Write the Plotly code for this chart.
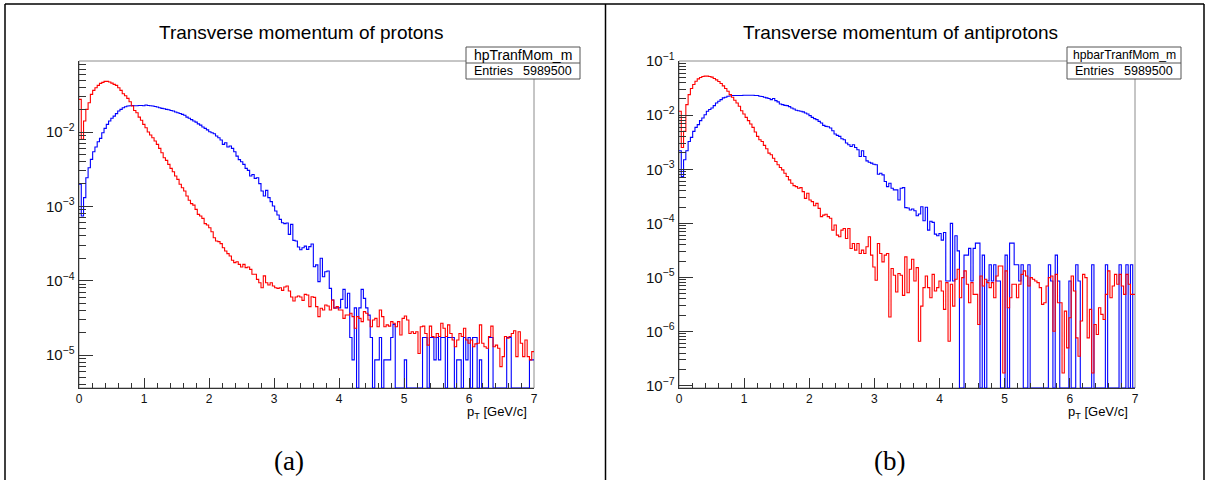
import numpy as np
import plotly.graph_objects as go

### ----- data (200 bins, 0 < pT < 7 GeV/c) ----- ###

pt_min = 0.0
pt_max = 7.0
n_bins = 200

# protons, red histogram
p_red = [
    2.75e-2, 8.0e-3, 1.41e-2, 2.02e-2, 2.48e-2, 3.21e-2, 3.64e-2, 3.95e-2, 4.24e-2, 4.52e-2,
    4.66e-2, 4.81e-2, 4.81e-2, 4.71e-2, 4.56e-2, 4.38e-2, 4.24e-2, 3.95e-2, 3.64e-2, 3.28e-2,
    3.08e-2, 2.84e-2, 2.56e-2, 2.24e-2, 1.95e-2, 1.82e-2, 1.59e-2, 1.44e-2, 1.27e-2, 1.14e-2,
    1.00e-2, 9.12e-3, 8.39e-3, 7.57e-3, 6.83e-3, 6.03e-3, 5.27e-3, 4.52e-3, 4.16e-3, 3.67e-3,
    3.24e-3, 2.92e-3, 2.56e-3, 2.31e-3, 1.98e-3, 1.78e-3, 1.61e-3, 1.38e-3, 1.21e-3, 1.09e-3,
    1.04e-3, 9.12e-4, 7.80e-4, 7.41e-4, 6.90e-4, 5.85e-4, 5.61e-4, 5.16e-4, 4.56e-4, 3.79e-4,
    3.42e-4, 3.35e-4, 3.15e-4, 2.78e-4, 2.51e-4, 2.31e-4, 2.15e-4, 1.88e-4, 1.75e-4, 1.80e-4,
    1.66e-4, 1.53e-4, 1.66e-4, 1.50e-4, 1.53e-4, 1.42e-4, 1.22e-4, 1.22e-4, 1.04e-4, 9.40e-5,
    8.05e-5, 1.16e-4, 9.40e-5, 8.75e-5, 9.40e-5, 8.48e-5, 8.05e-5, 7.88e-5, 8.05e-5, 7.41e-5,
    8.22e-5, 8.48e-5, 7.26e-5, 6.03e-5, 5.32e-5, 6.03e-5, 6.22e-5, 6.03e-5, 5.43e-5, 6.55e-5,
    6.41e-5, 4.47e-5, 6.09e-5, 5.97e-5, 4.47e-5, 3.28e-5, 4.25e-5, 4.03e-5, 4.71e-5, 4.56e-5,
    4.03e-5, 5.50e-5, 4.25e-5, 4.47e-5, 4.03e-5, 4.03e-5, 3.11e-5, 3.45e-5, 3.45e-5, 3.64e-5,
    3.28e-5, 2.29e-5, 3.28e-5, 3.11e-5, 2.81e-5, 3.83e-5, 3.64e-5, 2.96e-5, 2.40e-5, 2.96e-5,
    3.11e-5, 2.40e-5, 4.03e-5, 3.28e-5, 2.40e-5, 2.54e-5, 2.45e-5, 2.81e-5, 2.67e-5, 2.40e-5,
    2.81e-5, 1.86e-5, 3.11e-5, 3.35e-5, 2.96e-5, 1.95e-5, 2.06e-5, 1.95e-5, 2.06e-5, 1.05e-5,
    2.40e-5, 2.45e-5, 1.95e-5, 1.36e-5, 2.45e-5, 1.77e-5, 1.73e-5, 1.95e-5, 1.77e-5, 2.67e-5,
    2.29e-5, 1.77e-5, 2.54e-5, 1.95e-5, 1.59e-5, 1.29e-5, 1.59e-5, 1.95e-5, 1.77e-5, 2.29e-5,
    1.59e-5, 1.44e-5, 1.59e-5, 1.29e-5, 1.41e-5, 1.44e-5, 2.54e-5, 1.44e-5, 1.29e-5, 1.23e-5,
    1.77e-5, 2.45e-5, 1.29e-5, 1.36e-5, 1.23e-5, 6.97e-6, 9.5e-6, 1.77e-5, 1.68e-5, 1.77e-5,
    1.95e-5, 2.12e-5, 9.5e-6, 2.06e-5, 1.44e-5, 9.5e-6, 1.59e-5, 9.5e-6, 8.6e-6, 1.11e-5,
]

# protons, blue histogram
p_blue = [
    1.98e-3, 7.41e-4, 1.31e-3, 2.43e-3, 3.31e-3, 4.29e-3, 5.44e-3, 6.28e-3, 7.41e-3, 8.22e-3,
    9.80e-3, 1.12e-2, 1.27e-2, 1.41e-2, 1.53e-2, 1.64e-2, 1.77e-2, 1.92e-2, 2.02e-2, 2.12e-2,
    2.19e-2, 2.24e-2, 2.26e-2, 2.28e-2, 2.26e-2, 2.26e-2, 2.28e-2, 2.28e-2, 2.26e-2, 2.31e-2,
    2.28e-2, 2.26e-2, 2.24e-2, 2.21e-2, 2.17e-2, 2.12e-2, 2.08e-2, 2.06e-2, 2.02e-2, 2.00e-2,
    1.95e-2, 1.92e-2, 1.86e-2, 1.82e-2, 1.78e-2, 1.73e-2, 1.68e-2, 1.59e-2, 1.53e-2, 1.47e-2,
    1.41e-2, 1.36e-2, 1.29e-2, 1.24e-2, 1.17e-2, 1.12e-2, 1.07e-2, 1.01e-2, 9.80e-3, 9.50e-3,
    8.83e-3, 8.39e-3, 7.80e-3, 6.83e-3, 7.19e-3, 6.28e-3, 6.49e-3, 6.03e-3, 5.44e-3, 4.75e-3,
    4.25e-3, 3.99e-3, 3.67e-3, 3.24e-3, 3.05e-3, 2.56e-3, 2.69e-3, 2.38e-3, 2.43e-3, 2.02e-3,
    1.61e-3, 1.38e-3, 1.64e-3, 1.31e-3, 1.16e-3, 1.01e-3, 8.65e-4, 7.64e-4, 6.68e-4, 6.03e-4,
    5.85e-4, 5.97e-4, 4.20e-4, 5.73e-4, 3.49e-4, 3.42e-4, 2.84e-4, 2.61e-4, 2.78e-4, 2.92e-4,
    2.64e-4, 2.87e-4, 3.11e-4, 1.54e-4, 1.63e-4, 9.70e-5, 2.00e-4, 1.13e-4, 1.32e-4, 1.35e-4,
    7.88e-5, 5.50e-5, 4.30e-5, 4.30e-5, 4.30e-5, 5.61e-5, 7.64e-5, 4.30e-5, 6.76e-5, 1.72e-5,
    8.6e-6, 4.30e-5, 0, 4.30e-5, 7.64e-5, 5.78e-5, 4.30e-5, 3.44e-5, 1.72e-5, 0,
    8.6e-6, 8.6e-6, 1.72e-5, 0, 8.6e-6, 8.6e-6, 8.6e-6, 1.72e-5, 2.58e-5, 0,
    0, 0, 0, 8.6e-6, 0, 0, 0, 0, 0, 0,
    0, 1.72e-5, 1.72e-5, 0, 1.72e-5, 1.72e-5, 8.6e-6, 1.72e-5, 8.6e-6, 1.72e-5,
    1.72e-5, 0, 1.72e-5, 1.72e-5, 1.72e-5, 0, 8.6e-6, 8.6e-6, 0, 1.72e-5,
    8.6e-6, 1.72e-5, 0, 1.72e-5, 1.72e-5, 0, 8.6e-6, 0, 0, 0,
    1.72e-5, 1.72e-5, 0, 0, 0, 0, 0, 0, 1.72e-5, 1.72e-5,
    0, 0, 0, 0, 0, 0, 0, 0, 8.6e-6, 8.6e-6,
]

# antiprotons, red histogram
pbar_red = [
    1.18e-2, 2.53e-3, 5.01e-3, 1.57e-2, 2.40e-2, 3.11e-2, 3.69e-2, 4.25e-2, 4.70e-2, 4.98e-2,
    5.19e-2, 5.27e-2, 5.27e-2, 5.19e-2, 5.05e-2, 4.77e-2, 4.50e-2, 4.20e-2, 3.85e-2, 3.48e-2,
    3.11e-2, 2.77e-2, 2.40e-2, 2.15e-2, 1.89e-2, 1.68e-2, 1.46e-2, 1.21e-2, 1.05e-2, 9.12e-3,
    7.92e-3, 6.87e-3, 5.96e-3, 4.88e-3, 4.05e-3, 3.52e-3, 3.27e-3, 2.76e-3, 2.39e-3, 1.99e-3,
    1.85e-3, 1.60e-3, 1.39e-3, 1.21e-3, 1.08e-3, 9.75e-4, 8.45e-4, 7.33e-4, 6.36e-4, 5.51e-4,
    4.99e-4, 4.78e-4, 4.45e-4, 4.58e-4, 3.86e-4, 2.90e-4, 3.60e-4, 2.70e-4, 2.52e-4, 2.12e-4,
    2.34e-4, 1.89e-4, 1.33e-4, 1.42e-4, 1.47e-4, 1.33e-4, 1.24e-4, 7.50e-5, 9.29e-5, 6.05e-5,
    5.64e-5, 7.50e-5, 8.05e-5, 5.25e-5, 8.05e-5, 3.43e-5, 4.24e-5, 3.19e-5, 4.24e-5, 2.77e-5,
    3.19e-5, 2.77e-5, 3.68e-5, 5.64e-5, 2.58e-5, 1.56e-5, 8.85e-6, 4.24e-5, 2.77e-5, 1.94e-5,
    2.58e-5, 2.77e-5, 1.85e-6, 1.46e-5, 1.10e-5, 5.37e-6, 1.18e-5, 1.10e-5, 4.66e-6, 2.40e-5,
    5.22e-6, 1.42e-5, 2.17e-5, 8.59e-6, 1.52e-5, 6.61e-7, 2.95e-6, 6.47e-6, 1.06e-5, 6.47e-6,
    4.22e-6, 1.14e-5, 5.61e-6, 6.47e-6, 8.59e-6, 5.61e-6, 2.56e-6, 8.00e-6, 6.61e-7, 7.46e-6,
    2.95e-6, 9.23e-6, 1.42e-5, 4.22e-6, 9.91e-6, 1.32e-5, 7.46e-6, 3.40e-6, 8.00e-6, 4.86e-6,
    4.86e-6, 1.35e-6, 1.06e-5, 6.95e-6, 9.23e-6, 8.00e-6, 6.47e-6, 8.00e-6, 4.22e-6, 1.06e-5,
    1.63e-5, 1.63e-5, 1.71e-7, 1.32e-5, 2.75e-6, 4.22e-6, 7.46e-6, 7.46e-6, 4.22e-6, 7.46e-6,
    1.14e-5, 1.32e-5, 1.06e-5, 6.95e-6, 9.91e-6, 9.23e-6, 8.59e-6, 8.00e-6, 6.47e-6, 3.17e-6,
    3.40e-6, 6.95e-6, 9.91e-6, 1.06e-5, 1.01e-6, 1.14e-5, 3.40e-6, 3.40e-6, 1.71e-7, 2.38e-6,
    4.97e-7, 1.79e-6, 1.06e-5, 5.61e-6, 7.62e-7, 3.48e-7, 1.56e-6, 1.14e-5, 9.91e-6, 7.62e-7,
    2.56e-6, 1.71e-7, 1.35e-6, 8.79e-7, 2.75e-6, 2.07e-6, 1.67e-6, 4.86e-6, 1.32e-5, 4.22e-6,
    6.95e-6, 1.14e-5, 7.46e-6, 1.14e-5, 6.95e-6, 4.86e-6, 1.14e-5, 7.46e-6, 4.86e-6, 4.86e-6,
]

# antiprotons, blue histogram
pbar_blue = [
    2.20e-3, 7.33e-4, 1.50e-3, 2.20e-3, 3.27e-3, 3.88e-3, 5.01e-3, 5.96e-3, 6.68e-3, 7.92e-3,
    8.87e-3, 1.02e-2, 1.18e-2, 1.27e-2, 1.36e-2, 1.50e-2, 1.68e-2, 1.81e-2, 1.94e-2, 2.09e-2,
    2.15e-2, 2.24e-2, 2.27e-2, 2.31e-2, 2.31e-2, 2.31e-2, 2.31e-2, 2.31e-2, 2.34e-2, 2.34e-2,
    2.34e-2, 2.34e-2, 2.34e-2, 2.31e-2, 2.31e-2, 2.24e-2, 2.21e-2, 2.15e-2, 2.09e-2, 2.03e-2,
    1.94e-2, 2.03e-2, 1.86e-2, 1.76e-2, 1.61e-2, 1.57e-2, 1.52e-2, 1.50e-2, 1.44e-2, 1.36e-2,
    1.30e-2, 1.23e-2, 1.21e-2, 1.18e-2, 1.15e-2, 1.10e-2, 1.05e-2, 9.80e-3, 9.12e-3, 8.63e-3,
    8.26e-3, 7.69e-3, 7.16e-3, 6.49e-3, 6.21e-3, 6.12e-3, 5.78e-3, 5.16e-3, 4.48e-3, 4.23e-3,
    4.05e-3, 3.66e-3, 3.52e-3, 3.05e-3, 2.84e-3, 2.64e-3, 2.84e-3, 2.53e-3, 2.29e-3, 1.72e-3,
    2.20e-3, 1.72e-3, 1.43e-3, 1.35e-3, 1.30e-3, 1.24e-3, 1.21e-3, 8.09e-4, 8.45e-4, 7.87e-4,
    5.92e-4, 4.78e-4, 5.51e-4, 4.45e-4, 4.15e-4, 4.15e-4, 2.70e-4, 4.45e-4, 4.58e-4, 1.95e-4,
    1.92e-4, 1.76e-4, 1.84e-4, 1.71e-4, 1.38e-4, 1.49e-4, 2.03e-4, 1.12e-4, 1.98e-4, 7.50e-5,
    1.09e-4, 1.04e-4, 6.32e-5, 5.89e-5, 6.50e-5, 4.89e-5, 6.79e-5, 8.6e-6, 8.6e-6, 9.97e-5,
    8.6e-6, 5.89e-5, 3.10e-5, 0, 0, 2.58e-5, 2.58e-5, 3.44e-5, 8.6e-6, 3.44e-5,
    4.30e-5, 4.30e-5, 0, 2.58e-5, 0, 8.6e-6, 1.72e-5, 8.6e-6, 1.72e-5, 8.6e-6,
    8.6e-6, 0, 0, 2.58e-5, 0, 4.30e-5, 4.30e-5, 1.72e-5, 1.72e-5, 8.6e-6,
    1.72e-5, 0, 0, 1.72e-5, 0, 0, 0, 0, 0, 0,
    0, 0, 1.72e-5, 8.6e-6, 0, 2.58e-5, 8.6e-6, 0, 0, 0,
    0, 8.6e-6, 0, 0, 1.72e-5, 8.6e-6, 0, 0, 0, 0,
    0, 1.72e-5, 0, 0, 0, 0, 0, 1.72e-5, 0, 0,
    0, 0, 0, 1.72e-5, 0, 0, 1.72e-5, 0, 1.72e-5, 0,
]

titles = ["Transverse momentum of protons", "Transverse momentum of antiprotons"]
stat_names = ["hpTranfMom_m", "hpbarTranfMom_m"]
entries = [5989500, 5989500]
captions = ["(a)", "(b)"]

### ----- figure ----- ###

W, H = 1209, 480
def px(x):
    return x / W
def py(y):
    return 1 - y / H

edges = np.linspace(pt_min, pt_max, n_bins + 1)
y_ranges = [[-5.444, -1.044], [-7.045, -0.998]]
x_domains = [[px(79), px(534)], [px(679), px(1135)]]
y_domain = [py(388), py(61)]

RED = "#ff0000"
BLUE = "#0000ff"
AXIS = "#333333"
FRAME = "#8c8c8c"
SANS = "Liberation Sans, Arial, sans-serif"

def step_y(vals, floor):
    # ROOT draws empty bins down to the bottom of the frame
    v = [max(val, floor) if val > 0 else floor for val in vals]
    return v + [v[-1]]

fig = go.Figure()
panels = [(p_red, p_blue), (pbar_red, pbar_blue)]
for k, (red, blue) in enumerate(panels):
    floor = 10 ** y_ranges[k][0]
    xa = "x" if k == 0 else "x2"
    ya = "y" if k == 0 else "y2"
    for vals, col in [(blue, BLUE), (red, RED)]:
        fig.add_trace(go.Scatter(
            x=edges, y=step_y(vals, floor), mode="lines",
            line=dict(color=col, width=1.1, shape="hv"),
            xaxis=xa, yaxis=ya, showlegend=False, hoverinfo="skip"))

def xaxis_cfg(dom, anchor):
    return dict(domain=dom, anchor=anchor, range=[pt_min, pt_max], tick0=0, dtick=1,
                ticks="inside", ticklen=10, tickwidth=1, tickcolor=AXIS,
                minor=dict(ticks="inside", ticklen=5, dtick=0.2, tickcolor=AXIS, tickwidth=1),
                showline=True, linecolor=AXIS, linewidth=1, showgrid=False, zeroline=False,
                automargin=False,
                tickfont=dict(family=SANS, size=12, color="#111"))

def yaxis_cfg(rng, anchor):
    return dict(domain=y_domain, anchor=anchor, type="log", range=rng, dtick=1,
                exponentformat="power", ticks="inside", ticklen=14, tickwidth=1, tickcolor=AXIS,
                minor=dict(ticks="inside", ticklen=7, dtick="D1", tickcolor=AXIS, tickwidth=1),
                showline=True, linecolor=AXIS, linewidth=1, showgrid=False, zeroline=False,
                ticklabelstandoff=1, automargin=False,
                tickfont=dict(family=SANS, size=12, color="#111"))

shapes = []
annotations = []

# outer boxes of the two sub-figures
shapes.append(dict(type="line", xref="paper", yref="paper", x0=px(5), x1=px(1204),
                   y0=py(4), y1=py(4), line=dict(color="#000", width=1.5)))
for xv in [5, 605.5, 1204]:
    shapes.append(dict(type="line", xref="paper", yref="paper", x0=px(xv), x1=px(xv),
                       y0=py(4), y1=0, line=dict(color="#000", width=1.5)))

title_x = [301, 900]
stat_x = [(466, 580), (1067, 1181)]
stat_font = [14, 12.2]
cap_x = [289, 890]
for k in range(2):
    xs = "x" if k == 0 else "x2"
    ys = "y" if k == 0 else "y2"
    # frame
    shapes.append(dict(type="rect", xref=xs + " domain", yref=ys + " domain",
                       x0=0, x1=1, y0=0, y1=1, line=dict(color=FRAME, width=1), layer="below"))
    # stat box
    sx0, sx1 = stat_x[k]
    shapes.append(dict(type="rect", xref="paper", yref="paper", x0=px(sx0), x1=px(sx1),
                       y0=py(79), y1=py(47), fillcolor="white", line=dict(color="#555", width=1),
                       layer="above"))
    shapes.append(dict(type="line", xref="paper", yref="paper", x0=px(sx0), x1=px(sx1),
                       y0=py(63), y1=py(63), line=dict(color="#555", width=1)))
    annotations.append(dict(text=stat_names[k], xref="paper", yref="paper",
                            x=px((sx0 + sx1) / 2), y=py(55), showarrow=False,
                            xanchor="center", yanchor="middle",
                            font=dict(family=SANS, size=stat_font[k], color="#000")))
    annotations.append(dict(text="Entries", xref="paper", yref="paper",
                            x=px(sx0 + 6), y=py(71.5), showarrow=False,
                            xanchor="left", yanchor="middle",
                            font=dict(family=SANS, size=12.5, color="#000")))
    annotations.append(dict(text=str(entries[k]), xref="paper", yref="paper",
                            x=px(sx1 - 6), y=py(71.5), showarrow=False,
                            xanchor="right", yanchor="middle",
                            font=dict(family=SANS, size=12.5, color="#000")))
    # title
    annotations.append(dict(text=titles[k], xref="paper", yref="paper",
                            x=px(title_x[k]), y=py(33), showarrow=False,
                            xanchor="center", yanchor="middle",
                            font=dict(family=SANS, size=19, color="#000")))
    # x axis title
    annotations.append(dict(text="p<sub>T</sub> [GeV/c]", xref=xs + " domain", yref="paper",
                            x=0.99, y=py(412), showarrow=False,
                            xanchor="right", yanchor="middle",
                            font=dict(family=SANS, size=13, color="#000")))
    # caption
    annotations.append(dict(text=captions[k], xref="paper", yref="paper",
                            x=px(cap_x[k]), y=py(461), showarrow=False,
                            xanchor="center", yanchor="middle",
                            font=dict(family="Liberation Serif, DejaVu Serif, serif", size=27, color="#000")))

fig.update_layout(
    width=W, height=H,
    margin=dict(l=0, r=0, t=0, b=0, pad=0, autoexpand=False),
    paper_bgcolor="white", plot_bgcolor="white",
    xaxis=xaxis_cfg(x_domains[0], "y"),
    yaxis=yaxis_cfg(y_ranges[0], "x"),
    xaxis2=xaxis_cfg(x_domains[1], "y2"),
    yaxis2=yaxis_cfg(y_ranges[1], "x2"),
    shapes=shapes,
    annotations=annotations,
    showlegend=False,
)

fig.write_html("out.html", config={"displayModeBar": False},
               post_script="document.body.style.margin='0';document.body.style.overflow='hidden';")
